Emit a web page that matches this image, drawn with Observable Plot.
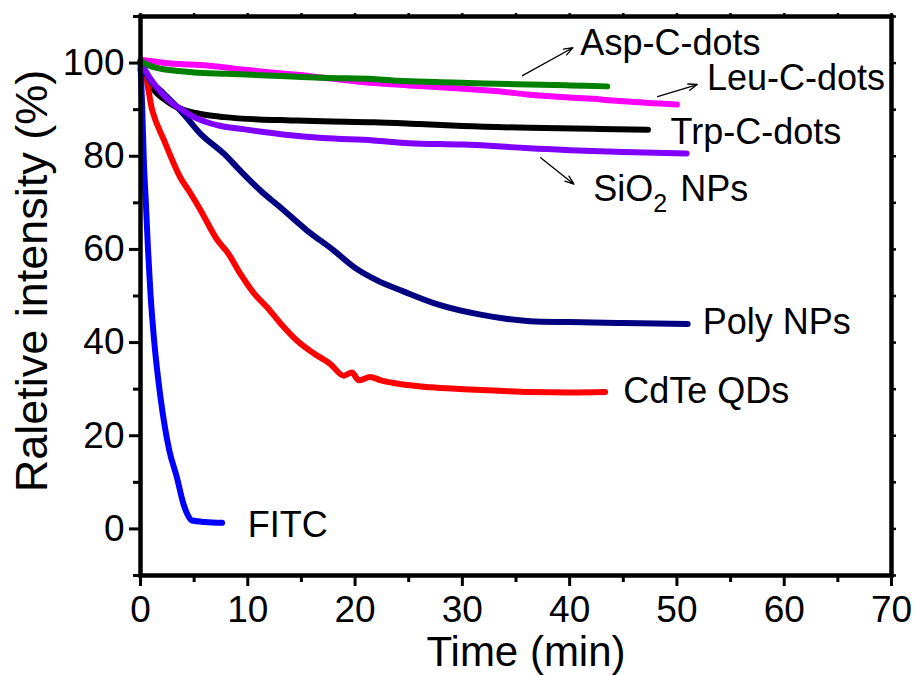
<!DOCTYPE html>
<html>
<head>
<meta charset="utf-8">
<script src="https://cdn.jsdelivr.net/npm/d3@7"></script>
<script src="https://cdn.jsdelivr.net/npm/@observablehq/plot@0.6"></script>
<style>
  html, body { margin: 0; padding: 0; background: #fff; }
  #chart svg { display: block; }
</style>
</head>
<body>
<div id="chart"></div>
<script>
// ---- data: time (min) and relative intensity (%) ----
const aspT = [0, 1, 3.1, 5, 8, 12.4, 15, 17.7, 21.7, 24, 28, 32, 36.3, 40, 43.5];
const aspV = [100.5, 99.3, 98.4, 98, 97.7, 97.3, 97.0, 96.8, 96.6, 96.2, 95.9, 95.6, 95.4, 95.2, 95.0];

const leuT = [0, 2.8, 6.2, 10, 14.6, 21.7, 25, 30.1, 33.6, 36.3, 40, 42.9, 45, 50];
const leuV = [100.7, 99.9, 99.5, 98.5, 97.5, 95.7, 95.2, 94.5, 93.9, 93.2, 92.6, 92.2, 91.8, 91.1];

const trpT = [0, 0.5, 0.9, 1.5, 2.1, 2.8, 3.5, 4.7, 6, 7.8, 11, 14, 17, 21.7, 26, 30, 36.3, 42, 47.3];
const trpV = [100.3, 97.5, 95.4, 93.6, 92.4, 91.3, 90.4, 89.5, 88.9, 88.4, 87.9, 87.7, 87.5, 87.3, 86.9, 86.5, 86.1, 85.9, 85.7];

const sioT = [0, 0.9, 2, 3, 4, 5, 6.2, 7.5, 9.3, 11.5, 14, 17, 21.7, 25, 30.1, 33.6, 36.3, 40, 45, 50.9];
const sioV = [100.3, 96.7, 93.5, 91.3, 89.8, 88.4, 87.3, 86.5, 85.9, 85.2, 84.5, 83.9, 83.4, 82.8, 82.5, 82.1, 81.7, 81.3, 80.9, 80.6];

const polyT = [0, 0.9, 2, 4, 5.6, 7.8, 9.3, 11.2, 13, 15.5, 18, 19.9, 22.1, 24.5, 27.7, 31.7, 36.3, 40, 45, 51];
const polyV = [100.3, 96.3, 93.8, 89.1, 84.8, 80.5, 76.9, 72.6, 69.1, 64.1, 59.8, 56.2, 53.3, 51, 48.2, 46, 44.6, 44.4, 44.2, 44];

const cdteT = [0, 0.3, 1.1, 2.2, 3.7, 4.7, 5.6, 7.2, 8.1, 9.3, 10.6, 11.8, 13.1, 14.6, 16.2, 17.7, 18.95, 19.7, 20.35, 21.4, 22.4, 23.9, 27, 30.1, 33, 36.3, 40, 43.3];
const cdteV = [98.6, 98.4, 89.8, 83.4, 75.5, 71.9, 68.4, 61.9, 59.4, 54.8, 50.5, 47.6, 44.0, 40.4, 37.6, 35.4, 32.9, 33.6, 31.9, 32.6, 31.9, 31.2, 30.4, 30, 29.7, 29.4, 29.3, 29.4];

const fitcT = [0, 0.15, 0.31, 0.5, 0.7, 0.93, 1.25, 1.86, 2.3, 2.7, 3.4, 4.0, 4.4, 4.8, 6, 7.6];
const fitcV = [100, 91, 79, 70, 60, 50.5, 41, 28.3, 21.5, 16.7, 11, 5.4, 3, 1.8, 1.5, 1.3];

const seriesNames  = ["Trp-C-dots", "CdTe QDs", "FITC", "Poly NPs", "SiO2 NPs", "Leu-C-dots", "Asp-C-dots"];
const seriesColors = ["#000000", "#ff0000", "#0000ff", "#000080", "#8000ff", "#ff00ff", "#008000"];
const seriesT = [trpT, cdteT, fitcT, polyT, sioT, leuT, aspT];
const seriesV = [trpV, cdteV, fitcV, polyV, sioV, leuV, aspV];

// annotation labels (anchored in data units)
const labelText = ["Asp-C-dots", "Leu-C-dots", "Trp-C-dots", "Poly NPs", "CdTe QDs", "FITC"];
const labelT    = [41.0, 52.8, 49.4, 52.4, 45.0, 10.0];
const labelV    = [104.3, 96.8, 85.0, 44.3, 29.5, 0.75];
const sioLabelT = 42.2, sioLabelV = 72.8;

// arrows (data units)
const arrowT1 = [35.6, 48.2, 37.3];
const arrowV1 = [97.3, 92.8, 79.7];
const arrowT2 = [40.3, 51.9, 40.4];
const arrowV2 = [103.3, 95.4, 74.0];

const xTicks = [0, 10, 20, 30, 40, 50, 60, 70];
const yTicks = [0, 20, 40, 60, 80, 100];

// ---- build tables ----
const rows = [];
seriesNames.forEach((name, i) => {
  seriesT[i].forEach((t, j) => rows.push({series: name, t, v: seriesV[i][j]}));
});
const labels = labelText.map((text, i) => ({text, t: labelT[i], v: labelV[i]}));
const arrows = arrowT1.map((_, i) => ({t1: arrowT1[i], v1: arrowV1[i], t2: arrowT2[i], v2: arrowV2[i]}));

const FONT = "'Liberation Sans', Arial, Helvetica, sans-serif";

const chart = Plot.plot({
  width: 916,
  height: 675,
  marginLeft: 140,
  marginRight: 25,
  marginTop: 16,
  marginBottom: 100,
  style: {fontFamily: FONT, background: "#fff", color: "#000"},
  x: {domain: [0, 70]},
  y: {domain: [-10, 110]},
  marks: [
    // lines
    ...seriesNames.map((name, i) =>
      Plot.line(rows.filter(d => d.series === name), {
        x: "t", y: "v", stroke: seriesColors[i], curve: "monotone-x",
        strokeWidth: 6, strokeLinejoin: "round", strokeLinecap: "round"
      })
    ),
    // axes
    Plot.axisX({ticks: xTicks, tickSize: 11, tickPadding: 9, strokeWidth: 3, fontSize: 37, label: null, tickFormat: d => d}),
    Plot.axisX({ticks: d3.range(5, 70, 10), tickSize: 7, strokeWidth: 3, tickFormat: () => "", label: null}),
    Plot.axisX({anchor: "top", ticks: d3.range(0, 71, 5), tickSize: 4, strokeWidth: 2.5, tickFormat: () => "", label: null}),
    Plot.axisY({ticks: yTicks, tickSize: 11, tickPadding: 5, strokeWidth: 3, fontSize: 37, label: null, tickFormat: d => d}),
    Plot.axisY({ticks: d3.range(-10, 111, 20), tickSize: 7, strokeWidth: 3, tickFormat: () => "", label: null}),
    Plot.axisY({anchor: "right", ticks: d3.range(-10, 111, 10), tickSize: 4, strokeWidth: 2.5, tickFormat: () => "", label: null}),
    Plot.frame({stroke: "#000", strokeWidth: 4.5}),
    // axis titles
    Plot.text(["Time (min)"], {text: d => d, frameAnchor: "bottom", textAnchor: "middle", lineAnchor: "middle", dy: 77, dx: 10, fontSize: 42, fill: "#000"}),
    Plot.text(["Raletive intensity (%)"], {text: d => d, frameAnchor: "left", textAnchor: "middle", lineAnchor: "middle", rotate: -90, dx: -108, dy: -15, fontSize: 45, fill: "#000"}),
    // annotations
    Plot.text(labels, {x: "t", y: "v", text: "text", textAnchor: "start", fontSize: 36, fill: "#000"}),
    Plot.text([{t: sioLabelT, v: sioLabelV}], {x: "t", y: "v", text: () => "SiO", textAnchor: "start", fontSize: 36, fill: "#000"}),
    Plot.text([{t: sioLabelT, v: sioLabelV}], {x: "t", y: "v", text: () => "2", textAnchor: "start", fontSize: 25, dx: 60, dy: 14, fill: "#000"}),
    Plot.text([{t: sioLabelT, v: sioLabelV}], {x: "t", y: "v", text: () => "NPs", textAnchor: "start", fontSize: 36, dx: 87, fill: "#000"}),
    Plot.arrow(arrows, {x1: "t1", y1: "v1", x2: "t2", y2: "v2", stroke: "#000", strokeWidth: 1.3, headLength: 11, headAngle: 40})
  ]
});
document.getElementById("chart").appendChild(chart);
</script>
</body>
</html>
